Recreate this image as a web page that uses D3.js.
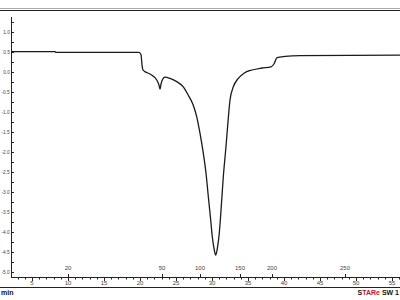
<!DOCTYPE html>
<html><head><meta charset="utf-8">
<script src="https://cdn.jsdelivr.net/npm/d3@7"></script>
<style>body{margin:0;background:#fff}svg{display:block}</style>
</head><body>
<script>
// Time (min) and heat flow values
const timeMin = [2.08, 8.19, 8.33, 19.86, 20.14, 20.28, 20.42, 20.69, 21.39, 21.81, 22.32, 22.64, 22.78, 22.92, 23.15, 23.47, 24.17, 25.10, 26.01, 26.71, 27.40, 27.88, 28.33, 28.79, 29.17, 29.49, 29.82, 30.04, 30.32, 30.51, 30.74, 31.01, 31.35, 31.57, 31.90, 32.13, 32.36, 32.50, 32.96, 33.65, 34.44, 35.56, 36.94, 38.19, 38.61, 39.03, 40.14, 42.22, 56.11];
const heatFlow = [0.51, 0.51, 0.49, 0.49, 0.43, 0.18, 0.05, 0.01, -0.05, -0.10, -0.20, -0.33, -0.43, -0.30, -0.18, -0.13, -0.16, -0.24, -0.37, -0.58, -0.83, -1.12, -1.53, -2.03, -2.53, -3.12, -3.70, -4.12, -4.45, -4.58, -4.41, -4.03, -3.20, -2.62, -1.95, -1.45, -0.95, -0.70, -0.37, -0.16, -0.03, 0.05, 0.10, 0.13, 0.20, 0.36, 0.39, 0.41, 0.42];
const timeTicks = [5, 10, 15, 20, 25, 30, 35, 40, 45, 50, 55];
const tempLabels = ["20", "50", "100", "150", "200", "250"];
const tempTimes = [10.0, 23.06, 28.33, 33.89, 38.33, 48.47];
const yTicks = [1.0, 0.5, 0.0, -0.5, -1.0, -1.5, -2.0, -2.5, -3.0, -3.5, -4.0, -4.5, -5.0];
const yLabels = ["1.0", "0.5", "0.0", "-0.5", "-1.0", "-1.5", "-2.0", "-2.5", "-3.0", "-3.5", "-4.0", "-4.5", "-5.0"];

const W = 400, H = 300;
const svg = d3.select("body").append("svg").attr("width", W).attr("height", H);

const x = d3.scaleLinear().domain([5, 55]).range([32, 392]);
const y = d3.scaleLinear().domain([0, 1]).range([72, 32]);
const axisY = 277, axisX = 11;
const font = "Liberation Sans, Arial, sans-serif";

// top double frame line
svg.append("line").attr("x1", 0).attr("x2", W).attr("y1", 8.5).attr("y2", 8.5).attr("stroke", "#aaa").attr("stroke-width", 1);
svg.append("line").attr("x1", 0).attr("x2", W).attr("y1", 10.5).attr("y2", 10.5).attr("stroke", "#222").attr("stroke-width", 1);

// y axis
svg.append("line").attr("x1", axisX + 0.5).attr("x2", axisX + 0.5).attr("y1", 17).attr("y2", axisY).attr("stroke", "#222").attr("stroke-width", 1);
const yMinor = d3.range(-5, 1.26, 0.25);
svg.append("g").selectAll("line").data(yMinor).join("line")
  .attr("x1", axisX).attr("x2", axisX + 3)
  .attr("y1", d => Math.round(y(d)) + 0.5).attr("y2", d => Math.round(y(d)) + 0.5)
  .attr("stroke", "#222").attr("stroke-width", 1);
svg.append("g").selectAll("text").data(yTicks).join("text")
  .attr("x", 9.8).attr("y", d => y(d) + 2)
  .attr("text-anchor", "end").attr("font-family", font).attr("font-size", 4.8)
  .attr("fill", "#444").text((d, i) => yLabels[i]);

// x axis
svg.append("line").attr("x1", axisX).attr("x2", W).attr("y1", axisY + 0.5).attr("y2", axisY + 0.5).attr("stroke", "#222").attr("stroke-width", 1);
const xMinor = d3.range(3, 57, 1);
svg.append("g").selectAll("line").data(xMinor).join("line")
  .attr("x1", d => Math.round(x(d)) + 0.5).attr("x2", d => Math.round(x(d)) + 0.5)
  .attr("y1", axisY).attr("y2", d => axisY + (d % 5 === 0 ? 4 : 2.5))
  .attr("stroke", "#222").attr("stroke-width", 1);
svg.append("g").selectAll("text").data(timeTicks).join("text")
  .attr("x", d => x(d)).attr("y", 285)
  .attr("text-anchor", "middle").attr("font-family", font).attr("font-size", 6)
  .attr("fill", "#444").text(d => d);

// temperature labels above x axis
svg.append("g").selectAll("text").data(tempTimes).join("text")
  .attr("x", d => x(d)).attr("y", 270)
  .attr("text-anchor", "middle").attr("font-family", font).attr("font-size", 6)
  .attr("fill", "#444").text((d, i) => tempLabels[i]);
svg.append("g").selectAll("line").data(tempTimes).join("line")
  .attr("x1", d => Math.round(x(d)) + 0.5).attr("x2", d => Math.round(x(d)) + 0.5)
  .attr("y1", axisY - 3).attr("y2", axisY)
  .attr("stroke", "#222").attr("stroke-width", 1);

// bottom frame line
svg.append("line").attr("x1", 0).attr("x2", W).attr("y1", 287.5).attr("y2", 287.5).attr("stroke", "#222").attr("stroke-width", 1);

svg.append("text").attr("x", 1).attr("y", 295).attr("font-family", font).attr("font-size", 7)
  .attr("font-weight", "bold").attr("fill", "#111").text("min");

const star = svg.append("text").attr("x", 399).attr("y", 295).attr("text-anchor", "end")
  .attr("font-family", font).attr("font-size", 7).attr("font-weight", "bold");
star.append("tspan").attr("fill", "#111").text("S");
star.append("tspan").attr("fill", "#c0141e").text("TAR");
star.append("tspan").attr("fill", "#c0141e").text("e");
star.append("tspan").attr("fill", "#111").text(" SW 1");

// curve
const pts = timeMin.map((t, i) => [t, heatFlow[i]]);
const line = d3.line().x(d => x(d[0])).y(d => y(d[1])).curve(d3.curveMonotoneX);
svg.append("path").datum(pts).attr("d", line)
  .attr("fill", "none").attr("stroke", "#1a1a1a").attr("stroke-width", 1.3);
</script>
</body></html>
